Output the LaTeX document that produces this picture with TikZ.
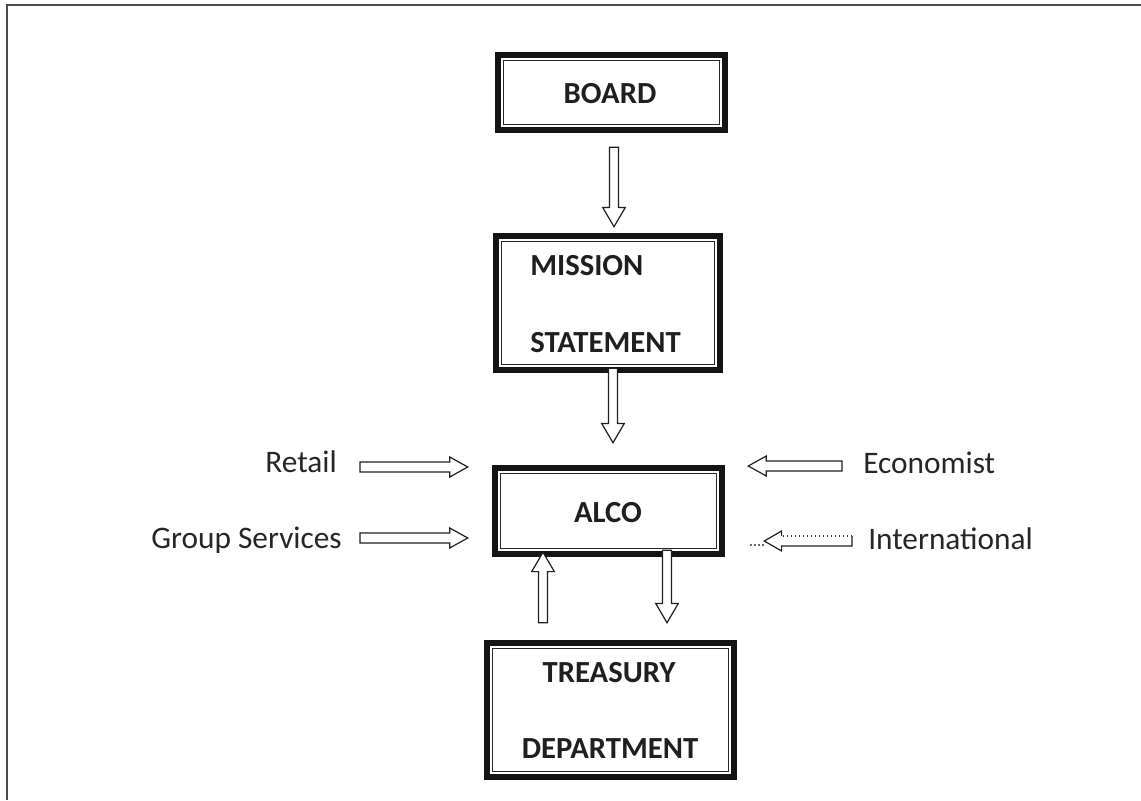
\documentclass[tikz,border=0pt]{standalone}
\usepackage{fontspec}
\setmainfont{Carlito}
\usetikzlibrary{calc}

% thick outer frame with a thin inner rule, drawn around a named node
\newcommand{\dblframe}[1]{%
  \draw[thickedge] ([shift={(3,3)}]#1.north west) rectangle ([shift={(-3,-3)}]#1.south east);
  \draw[thinedge] ([shift={(8.5,8.5)}]#1.north west) rectangle ([shift={(-8.5,-8.5)}]#1.south east);}

% hollow block arrow, vertical
\newcommand{\varrow}[2]{%
  \draw[arrowline] let \p1=(#1), \p2=(#2), \n1={sign(\y2-\y1)} in
    (\x1-3.4pt,\y1) -- (\x1-3.4pt,\y2-\n1*14.5pt) -- (\x1-8.5pt,\y2-\n1*14.5pt) -- (\x1,\y2)
    -- (\x1+8.5pt,\y2-\n1*14.5pt) -- (\x1+3.4pt,\y2-\n1*14.5pt) -- (\x1+3.4pt,\y1) -- cycle;}

% hollow block arrow, horizontal
\newcommand{\harrow}[2]{%
  \draw[arrowline] let \p1=(#1), \p2=(#2), \n1={sign(\x2-\x1)} in
    (\x1,\y1-3.75pt) -- (\x2-\n1*13.5pt,\y1-3.75pt) -- (\x2-\n1*13.5pt,\y1-7.5pt) -- (\x2,\y1)
    -- (\x2-\n1*13.5pt,\y1+7.5pt) -- (\x2-\n1*13.5pt,\y1+3.75pt) -- (\x1,\y1+3.75pt) -- cycle;}

\begin{document}
\begin{tikzpicture}[x=0.75pt,y=-0.75pt,
  box/.style={inner sep=0pt, draw=none},
  boxtext/.style={font=\fontsize{23}{23}\selectfont\bfseries, text=black!88, inner sep=0pt},
  sidetext/.style={font=\fontsize{23.5}{23.5}\selectfont, text=black!85, inner sep=0pt},
  thickedge/.style={line width=4.5pt, draw=black!92},
  thinedge/.style={line width=0.8pt, draw=black!85},
  arrowline/.style={draw=black!88, line width=0.9pt, fill=white, line join=miter}]
\useasboundingbox (0,0) rectangle (1141,800);

% page frame
\draw[black!70, line width=1.5pt] (7,800) -- (7,5) -- (1141,5);

% boxes
\node[box, minimum width=174.75pt, minimum height=60.75pt] (board) at (611.5,92.5) {};
\node[box, minimum width=172.5pt, minimum height=105pt] (mission) at (608,303) {};
\node[box, minimum width=174.75pt, minimum height=69pt] (alco) at (608.5,511) {};
\node[box, minimum width=189.75pt, minimum height=105pt] (treasury) at (610.5,710) {};
\dblframe{board}
\dblframe{mission}
\dblframe{alco}
\dblframe{treasury}

% box texts
\node[boxtext, anchor=base] (boardtxt) at (610,103) {BOARD};
\node[boxtext, anchor=base west] (missiontxt) at (530,275) {MISSION};
\node[boxtext, anchor=base west] (statementtxt) at (530,352) {STATEMENT};
\node[boxtext, anchor=base] (alcotxt) at (608,522) {ALCO};
\node[boxtext, anchor=base] (treasurytxt) at (609,682) {TREASURY};
\node[boxtext, anchor=base] (departmenttxt) at (610,758) {DEPARTMENT};

% side inputs
\node[sidetext, anchor=base east] (retail) at (337,472) {Retail};
\node[sidetext, anchor=base east] (group) at (342,548) {Group Services};
\node[sidetext, anchor=base west] (econ) at (863,473) {Economist};
\node[sidetext, anchor=base west] (intl) at (868,549) {International};

% arrow end points
\coordinate (b1) at ($(board.south)+(2.5,14)$);
\coordinate (b2) at ($(mission.north)+(6,-6)$);
\coordinate (m1) at ($(mission.south)+(5,-5)$);
\coordinate (m2) at ($(alco.north)+(4.5,-22)$);
\coordinate (t1) at ($(treasury.north)+(-67.5,-17)$);
\coordinate (t2) at ($(alco.south)+(-65.5,-5)$);
\coordinate (a1) at ($(alco.south)+(58.5,-7)$);
\coordinate (a2) at ($(treasury.north)+(56.5,-17)$);
\coordinate (r1) at ($(retail.base east)+(23,-5)$);
\coordinate (r2) at ($(alco.north west)+(-24,2)$);
\coordinate (g1) at ($(group.base east)+(18,-10)$);
\coordinate (g2) at ($(alco.south west)+(-24,-19)$);
\coordinate (e1) at ($(econ.base west)+(-21,-7)$);
\coordinate (e2) at ($(alco.north east)+(23,1)$);
\coordinate (i1) at ($(intl.base west)+(-16,-8)$);
\coordinate (i2) at ($(alco.east)+(39,30)$);

% flows
\varrow{b1}{b2}
\varrow{m1}{m2}
\varrow{t1}{t2}
\varrow{a1}{a2}
\harrow{r1}{r2}
\harrow{g1}{g2}
\harrow{e1}{e2}

% International: lower edge and lead-in are dotted
\fill[white] let \p1=(i1), \p2=(i2) in
  (\x1,\y1-3.75pt) -- (\x2+13pt,\y1-3.75pt) -- (\x2+13pt,\y1-7.5pt) -- (\x2,\y1)
  -- (\x2+13pt,\y1+7.5pt) -- (\x2+13pt,\y1+3.75pt) -- (\x1,\y1+3.75pt) -- cycle;
\draw[arrowline, fill=none] let \p1=(i1), \p2=(i2) in
  (\x2+13pt,\y1+3.75pt) -- (\x2+13pt,\y1+7.5pt) -- (\x2,\y1) -- (\x2+13pt,\y1-7.5pt)
  -- (\x2+13pt,\y1-3.75pt) -- (\x1,\y1-3.75pt) -- (\x1,\y1+3.75pt);
\draw[black!80, line width=1pt, dotted] let \p1=(i1), \p2=(i2) in
  (\x1,\y1+3.75pt) -- (\x2+13pt,\y1+3.75pt);
\draw[black!80, line width=1.6pt, line cap=round, dash pattern=on 0pt off 3pt] let \p2=(i2) in
  (\x2-1pt,\y2-3pt) -- (\x2-12pt,\y2-3pt);
\end{tikzpicture}
\end{document}
